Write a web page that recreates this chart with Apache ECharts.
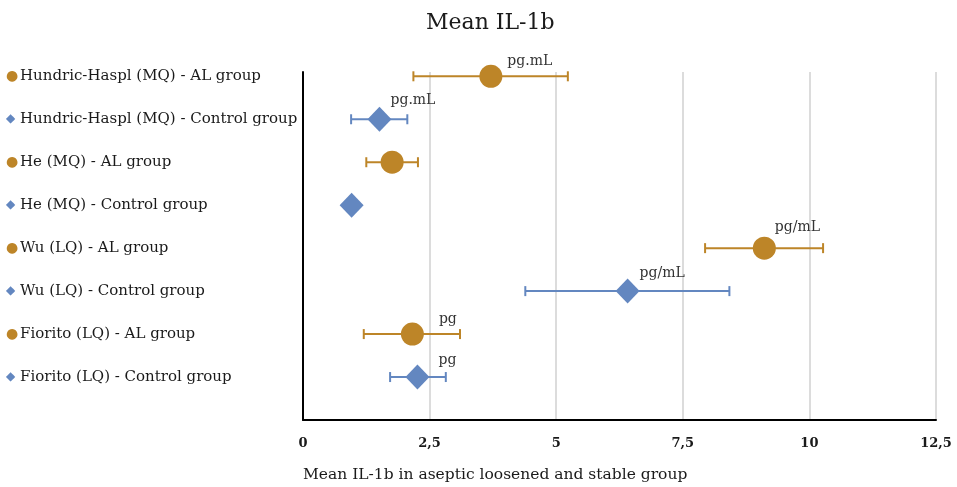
<!DOCTYPE html>
<html>
<head>
<meta charset="utf-8">
<script src="https://cdn.jsdelivr.net/npm/echarts@6/dist/echarts.min.js"></script>
<style>html,body{margin:0;padding:0;background:#fff}#c{width:957px;height:487px}</style>
</head>
<body>
<div id="c"></div>
<script>
// ---- data (top to bottom) ----
const rowLabels = [
  'Hundric-Haspl (MQ) - AL group',
  'Hundric-Haspl (MQ) - Control group',
  'He (MQ) - AL group',
  'He (MQ) - Control group',
  'Wu (LQ) - AL group',
  'Wu (LQ) - Control group',
  'Fiorito (LQ) - AL group',
  'Fiorito (LQ) - Control group'
];
const rowGroups = ['AL', 'Control', 'AL', 'Control', 'AL', 'Control', 'AL', 'Control'];
const means = [3.71, 1.51, 1.76, 0.96, 9.11, 6.41, 2.16, 2.26];
const lowers = [2.18, 0.95, 1.25, null, 7.94, 4.39, 1.20, 1.72];
const uppers = [5.23, 2.06, 2.27, null, 10.27, 8.42, 3.10, 2.82];
const units = ['pg.mL', 'pg.mL', '', '', 'pg/mL', 'pg/mL', 'pg', 'pg'];
const xTicks = [0, 2.5, 5, 7.5, 10, 12.5];
const chartTitle = 'Mean IL-1b';
const xAxisTitle = 'Mean IL-1b in aseptic loosened and stable group';

// ---- styles ----
const GOLD = '#BD8528';
const BLUE = '#6387C0';
const FONT = 'DejaVu Serif';
const labelNudge = [[0, -15], [-6, -19], [0, 0], [0, 0], [-6, -21], [-5, -18], [10, -15], [4, -17]];

const n = rowLabels.length;
const rowPos = i => n - i;

function pointsFor(group) {
  const out = [];
  for (let i = 0; i < n; i++) {
    if (rowGroups[i] !== group) continue;
    out.push({
      value: [means[i], rowPos(i), units[i]],
      label: { offset: labelNudge[i] }
    });
  }
  return out;
}
const errData = [];
for (let i = 0; i < n; i++) {
  if (lowers[i] == null) continue;
  errData.push([lowers[i], uppers[i], rowPos(i), rowGroups[i] === 'AL' ? 0 : 1]);
}

const chart = echarts.init(document.getElementById('c'));
chart.setOption({
  animation: false,
  textStyle: { fontFamily: FONT },
  title: [
    { text: chartTitle, left: 421, top: 7,
      textStyle: { fontFamily: FONT, fontSize: 22, fontWeight: 'normal', color: '#1a1a1a' } },
    { text: xAxisTitle, left: 298, top: 462,
      textStyle: { fontFamily: FONT, fontSize: 15.5, fontWeight: 'normal', color: '#1a1a1a' } }
  ],
  grid: { left: 303, right: 21, top: 72, bottom: 67, containLabel: false },
  xAxis: {
    type: 'value', min: 0, max: 12.5, interval: 2.5,
    axisLine: { show: true, lineStyle: { color: '#000', width: 2 } },
    axisTick: { show: false },
    splitLine: { show: true, lineStyle: { color: '#dcdcdc', width: 2 } },
    axisLabel: {
      margin: 17, color: '#1a1a1a', fontSize: 13, fontFamily: FONT, fontWeight: 'bold',
      formatter: v => xTicks.indexOf(v) >= 0 ? String(v).replace('.', ',') : ''
    }
  },
  yAxis: {
    type: 'value', min: 0, max: 8.1, interval: 1,
    axisLine: { show: true, onZero: false, lineStyle: { color: '#000', width: 2 } },
    axisTick: { show: false },
    splitLine: { show: false },
    axisLabel: {
      align: 'left', margin: 297, showMaxLabel: false,
      formatter: v => {
        const i = n - v;
        if (!Number.isInteger(v) || i < 0 || i >= n) return '';
        const mark = rowGroups[i] === 'AL' ? '{a|●}' : '{c|◆}';
        return mark + '{t|' + rowLabels[i] + '}';
      },
      rich: {
        a: { color: GOLD, fontSize: 14, fontFamily: 'DejaVu Sans', width: 14 },
        c: { color: BLUE, fontSize: 12, fontFamily: 'DejaVu Sans', width: 14 },
        t: { color: '#1a1a1a', fontSize: 15, fontFamily: FONT }
      }
    }
  },
  series: [
    {
      type: 'custom',
      z: 1,
      data: errData,
      encode: { x: [0, 1], y: 2 },
      renderItem: (params, api) => {
        const p1 = api.coord([api.value(0), api.value(2)]);
        const p2 = api.coord([api.value(1), api.value(2)]);
        const color = api.value(3) === 0 ? GOLD : BLUE;
        const h = 5;
        const st = { stroke: color, lineWidth: 2 };
        return {
          type: 'group',
          children: [
            { type: 'line', shape: { x1: p1[0], y1: p1[1], x2: p2[0], y2: p2[1] }, style: st },
            { type: 'line', shape: { x1: p1[0], y1: p1[1] - h, x2: p1[0], y2: p1[1] + h }, style: st },
            { type: 'line', shape: { x1: p2[0], y1: p2[1] - h, x2: p2[0], y2: p2[1] + h }, style: st }
          ]
        };
      }
    },
    {
      type: 'scatter', z: 3,
      symbol: 'circle', symbolSize: 23,
      itemStyle: { color: GOLD, opacity: 1 },
      data: pointsFor('AL'),
      label: { show: true, position: 'right', formatter: p => p.value[2],
        color: '#333', fontSize: 14, fontFamily: FONT }
    },
    {
      type: 'scatter', z: 3,
      symbol: 'diamond', symbolSize: [24, 25],
      itemStyle: { color: BLUE, opacity: 1 },
      data: pointsFor('Control'),
      label: { show: true, position: 'right', formatter: p => p.value[2],
        color: '#333', fontSize: 14, fontFamily: FONT }
    }
  ]
});
</script>
</body>
</html>
